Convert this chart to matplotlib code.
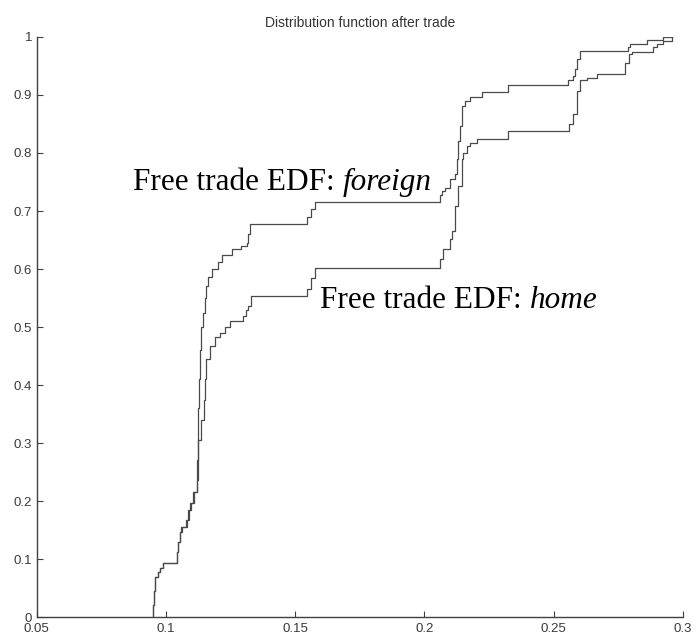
import numpy as np
import matplotlib
matplotlib.use("Agg")
import matplotlib.pyplot as plt

# Empirical distribution functions after trade: jump locations and CDF level after each jump
foreign_x = [0.0950, 0.0950, 0.0955, 0.0960, 0.0968, 0.0976, 0.0990, 0.1042, 0.1048, 0.1053,
             0.1060, 0.1077, 0.1085, 0.1092, 0.1105, 0.1119, 0.1121, 0.1123, 0.1125, 0.1128,
             0.1132, 0.1137, 0.1142, 0.1150, 0.1156, 0.1162, 0.1180, 0.1200, 0.1216, 0.1255,
             0.1290, 0.1313, 0.1318, 0.1324, 0.1544, 0.1560, 0.1576, 0.2060, 0.2066, 0.2079,
             0.2098, 0.2118, 0.2124, 0.2129, 0.2137, 0.2144, 0.2156, 0.2176, 0.2221, 0.2324,
             0.2556, 0.2574, 0.2582, 0.2589, 0.2601, 0.2788, 0.2794, 0.2859, 0.2923]
foreign_F = [0.000, 0.020, 0.045, 0.069, 0.078, 0.085, 0.094, 0.112, 0.130, 0.147,
             0.155, 0.168, 0.185, 0.197, 0.215, 0.231, 0.270, 0.310, 0.360, 0.410,
             0.460, 0.500, 0.525, 0.550, 0.570, 0.587, 0.600, 0.612, 0.625, 0.634,
             0.640, 0.645, 0.660, 0.677, 0.690, 0.703, 0.716, 0.728, 0.735, 0.740,
             0.755, 0.763, 0.789, 0.820, 0.847, 0.881, 0.890, 0.896, 0.906, 0.918,
             0.925, 0.933, 0.945, 0.962, 0.976, 0.982, 0.988, 0.995, 1.000]

home_x = [0.0950, 0.0950, 0.0955, 0.0960, 0.0968, 0.0976, 0.0990, 0.1042, 0.1048, 0.1053,
          0.1062, 0.1080, 0.1088, 0.1096, 0.1110, 0.1121, 0.1123, 0.1125, 0.1135, 0.1146,
          0.1152, 0.1157, 0.1170, 0.1189, 0.1208, 0.1230, 0.1247, 0.1297, 0.1310, 0.1317,
          0.1331, 0.1544, 0.1560, 0.1576, 0.2060, 0.2070, 0.2098, 0.2105, 0.2118, 0.2131,
          0.2144, 0.2150, 0.2163, 0.2176, 0.2202, 0.2324, 0.2560, 0.2574, 0.2589, 0.2601,
          0.2627, 0.2666, 0.2776, 0.2790, 0.2801, 0.2885, 0.2898, 0.2924, 0.2956]
home_F = [0.000, 0.020, 0.045, 0.069, 0.078, 0.085, 0.094, 0.112, 0.130, 0.147,
          0.155, 0.168, 0.185, 0.197, 0.215, 0.237, 0.270, 0.306, 0.340, 0.375,
          0.410, 0.444, 0.467, 0.482, 0.490, 0.500, 0.510, 0.519, 0.530, 0.536,
          0.553, 0.565, 0.585, 0.601, 0.617, 0.634, 0.651, 0.665, 0.709, 0.743,
          0.789, 0.800, 0.812, 0.818, 0.824, 0.838, 0.850, 0.867, 0.907, 0.925,
          0.930, 0.937, 0.956, 0.971, 0.974, 0.982, 0.988, 0.993, 1.000]

sample_max = 0.2956

x_ticks = [0.05, 0.1, 0.15, 0.2, 0.25, 0.3]
x_tick_labels = ["0.05", "0.1", "0.15", "0.2", "0.25", "0.3"]
y_ticks = [0, 0.1, 0.2, 0.3, 0.4, 0.5, 0.6, 0.7, 0.8, 0.9, 1.0]
y_tick_labels = ["0", "0.1", "0.2", "0.3", "0.4", "0.5", "0.6", "0.7", "0.8", "0.9", "1"]

title = "Distribution function after trade"
label_foreign = ("Free trade EDF: ", "foreign")
label_home = ("Free trade EDF: ", "home")

fig = plt.figure(figsize=(6.97, 6.40), dpi=100)
ax = fig.add_axes([0.0524, 0.0359, 0.9276, 0.9063])

line_kw = dict(color="#4a4a4a", lw=0.9, where="post")
ax.step(foreign_x + [sample_max], foreign_F + [foreign_F[-1]], **line_kw)
ax.step(home_x + [sample_max], home_F + [home_F[-1]], **line_kw)

ax.set_xlim(0.05, 0.3)
ax.set_ylim(0, 1)
ax.set_xticks(x_ticks)
ax.set_xticklabels(x_tick_labels)
ax.set_yticks(y_ticks)
ax.set_yticklabels(y_tick_labels)

for side in ("top", "right"):
    ax.spines[side].set_visible(False)
for side in ("left", "bottom"):
    ax.spines[side].set_color("#404040")
    ax.spines[side].set_linewidth(1.0)

ax.tick_params(direction="in", length=4, width=0.8, color="#404040",
               labelsize=9.5, labelcolor="#3a3a3a")
ax.tick_params(axis="x", pad=4.5)
ax.tick_params(axis="y", pad=3)
for lab in ax.get_xticklabels() + ax.get_yticklabels():
    lab.set_family("Liberation Sans")

ax.set_title(title, fontsize=10, family="Liberation Sans", color="#333333", pad=7)


def serif_label(x, y, plain, italic):
    t = ax.text(x, y, plain, fontsize=22.5, family="Liberation Serif",
                va="baseline", ha="left", color="black")
    fig.canvas.draw()
    bb = t.get_window_extent()
    x_end = ax.transData.inverted().transform((bb.x1, bb.y0))[0]
    ax.text(x_end, y, italic, fontsize=22.5, family="Liberation Serif",
            style="italic", va="baseline", ha="left", color="black")


serif_label(0.0873, 0.736, *label_foreign)
serif_label(0.1596, 0.533, *label_home)

fig.savefig("out.png", dpi=100, facecolor="white")
